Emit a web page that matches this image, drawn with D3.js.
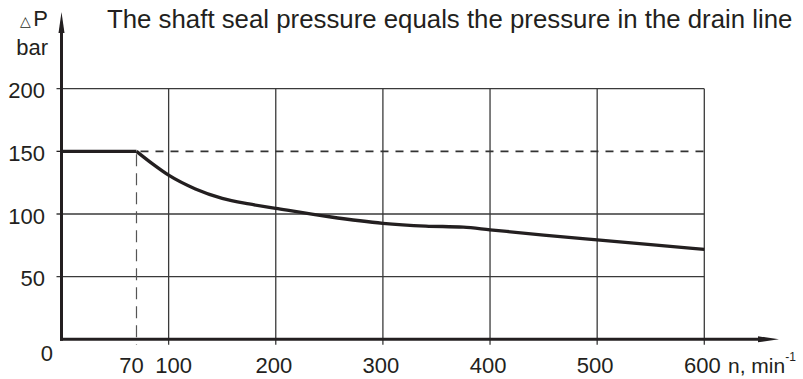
<!DOCTYPE html>
<html>
<head>
<meta charset="utf-8">
<script src="https://cdn.jsdelivr.net/npm/d3@7"></script>
<style>
  html, body { margin: 0; padding: 0; background: #fff; overflow: hidden; }
  text { font-family: "Liberation Sans", Arial, Helvetica, sans-serif; fill: #231f20; }
</style>
</head>
<body>
<svg id="chart" width="803" height="379"></svg>
<script>
// ---- data ----
const title = "The shaft seal pressure equals the pressure in the drain line";
const yLabelTop = "P";
const yUnit = "bar";
const xUnit = "n, min";
const xUnitSup = "-1";
const xTicks = [70, 100, 200, 300, 400, 500, 600];
const xGrid = [100, 200, 300, 400, 500, 600];
const yTicks = [50, 100, 150, 200];
const yGridSolid = [50, 100, 200];
const limitLevel = 150;       // dashed horizontal reference
const cornerSpeed = 70;       // dashed vertical reference
// curve: pressure vs speed
const flatSpeed = [0, 70];
const flatPressure = [150, 150];
const curveSpeed = [70, 85, 100, 125, 150, 175, 200, 250, 300, 340, 375, 400, 450, 500, 550, 600];
const curvePressure = [150, 140, 131, 120, 112.5, 108, 104.5, 97.8, 92.6, 90.4, 89.5, 87.4, 83.2, 79.3, 75.5, 71.8];

// ---- scales ----
const svg = d3.select("#chart");
const x = d3.scaleLinear().domain([0, 600]).range([61.5, 704.3]);
const y = d3.scaleLinear().domain([0, 200]).range([339.3, 88.7]);
const ink = "#231f20";
const gridCol = "#3a3a3a";

// ---- grid ----
svg.append("g").selectAll("line").data(yGridSolid).join("line")
  .attr("x1", x(0) - 5).attr("x2", x(600))
  .attr("y1", d => y(d)).attr("y2", d => y(d))
  .attr("stroke", gridCol).attr("stroke-width", 1.3);

svg.append("g").selectAll("line").data(xGrid).join("line")
  .attr("x1", d => x(d)).attr("x2", d => x(d))
  .attr("y1", y(0) + 5.5).attr("y2", y(200))
  .attr("stroke", gridCol).attr("stroke-width", 1.3);

// small tick at 150 on the y axis
svg.append("line")
  .attr("x1", x(0) - 5).attr("x2", x(0))
  .attr("y1", y(limitLevel)).attr("y2", y(limitLevel))
  .attr("stroke", ink).attr("stroke-width", 1.3);

// dashed reference lines
svg.append("line")
  .attr("x1", x(cornerSpeed)).attr("x2", x(600))
  .attr("y1", y(limitLevel)).attr("y2", y(limitLevel))
  .attr("stroke", "#333").attr("stroke-width", 1.7)
  .attr("stroke-dasharray", "8,7").attr("stroke-dashoffset", -4);

svg.append("line")
  .attr("x1", x(cornerSpeed)).attr("x2", x(cornerSpeed))
  .attr("y1", y(limitLevel)).attr("y2", y(0) + 5.5)
  .attr("stroke", "#555").attr("stroke-width", 1.2)
  .attr("stroke-dasharray", "12,7").attr("stroke-dashoffset", -3);

// ---- axes ----
svg.append("line")
  .attr("x1", x(0)).attr("x2", x(0))
  .attr("y1", y(0) + 1.5).attr("y2", 26)
  .attr("stroke", ink).attr("stroke-width", 3);
svg.append("path")
  .attr("d", d3.line()([[x(0) - 3, 33], [x(0), 12], [x(0) + 3, 33]]) + "Z")
  .attr("fill", ink);

svg.append("line")
  .attr("x1", x(0) - 1.5).attr("x2", 765)
  .attr("y1", y(0)).attr("y2", y(0))
  .attr("stroke", ink).attr("stroke-width", 3);
svg.append("path")
  .attr("d", d3.line()([[758, y(0) - 3], [779, y(0)], [758, y(0) + 3]]) + "Z")
  .attr("fill", ink);

// ---- curve ----
const line = d3.line().x(d => x(d[0])).y(d => y(d[1]));
svg.append("path")
  .datum(flatSpeed.map((s, i) => [s, flatPressure[i]]))
  .attr("d", line.curve(d3.curveLinear))
  .attr("fill", "none").attr("stroke", ink).attr("stroke-width", 3.3);
svg.append("path")
  .datum(curveSpeed.map((s, i) => [s, curvePressure[i]]))
  .attr("d", d3.line().x(d => x(d[0])).y(d => y(d[1])).curve(d3.curveMonotoneX))
  .attr("fill", "none").attr("stroke", ink).attr("stroke-width", 3.3)
  .attr("stroke-linejoin", "round");

// ---- tick labels ----
svg.append("g").selectAll("text").data(yTicks).join("text")
  .attr("x", 45).attr("y", d => y(d) + 9.5)
  .attr("text-anchor", "end").attr("font-size", 22)
  .text(d => d);

svg.append("text").attr("x", 53).attr("y", 360.5)
  .attr("text-anchor", "end").attr("font-size", 22).text(0);

const labelShift = d => d === 70 ? -5 : d === 100 ? 5 : -2;
svg.append("g").selectAll("text").data(xTicks).join("text")
  .attr("x", d => x(d) + labelShift(d)).attr("y", 373)
  .attr("text-anchor", "middle").attr("font-size", 22)
  .text(d => d);

// ---- axis titles ----
const tP = svg.append("text").attr("x", 48).attr("y", 26).attr("text-anchor", "end").attr("font-size", 22);
tP.append("tspan").attr("font-size", 14).attr("dy", -0.5).text("\u25B3");
tP.append("tspan").attr("dx", 2).attr("dy", 0.5).text(yLabelTop);

svg.append("text").attr("x", 48).attr("y", 54.5).attr("text-anchor", "end")
  .attr("font-size", 22).text(yUnit);

const tN = svg.append("text").attr("x", 728).attr("y", 373).attr("font-size", 21);
tN.append("tspan").text(xUnit);
tN.append("tspan").attr("font-size", 12).attr("dy", -12).text(xUnitSup);

svg.append("text").attr("x", 107).attr("y", 27.5).attr("font-size", 25.8).text(title);
</script>
</body>
</html>
